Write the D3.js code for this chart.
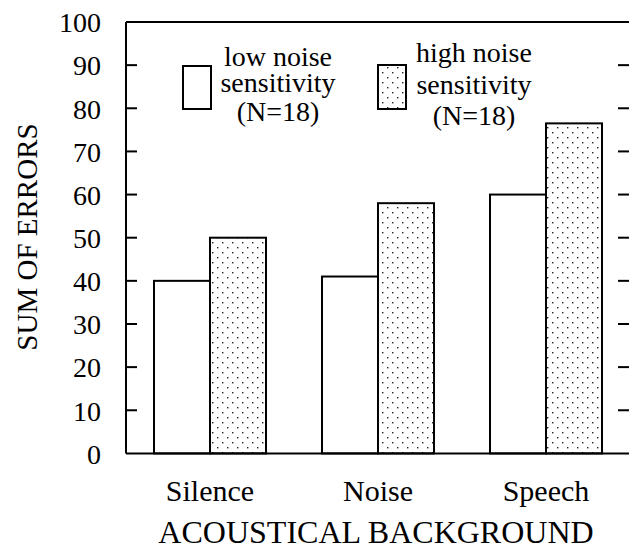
<!DOCTYPE html>
<html><head><meta charset="utf-8">
<script src="https://cdn.jsdelivr.net/npm/d3@7"></script>
<style>
html,body{margin:0;padding:0;background:#fff;}
text{font-family:"Liberation Serif","Times New Roman",serif;fill:#000;}
</style></head>
<body>
<svg id="chart" width="629" height="550"></svg>
<script>
const categories = ["Silence", "Noise", "Speech"];
const seriesNames = ["low", "high"];
const lowValues = [40, 41, 60];
const highValues = [50, 58, 76.5];
const yTicks = [0, 10, 20, 30, 40, 50, 60, 70, 80, 90, 100];
const legendLow = ["low noise", "sensitivity", "(N=18)"];
const legendHigh = ["high noise", "sensitivity", "(N=18)"];

const svg = d3.select("#chart");
const pLeft = 126, pRight = 630, pTop = 22, pBottom = 453.4;

const defs = svg.append("defs");
const pat = defs.append("pattern").attr("id", "dots").attr("patternUnits", "userSpaceOnUse")
  .attr("width", 10).attr("height", 10);
pat.append("rect").attr("width", 10).attr("height", 10).attr("fill", "#fff");
pat.append("rect").attr("x", 2).attr("y", 2).attr("width", 1.4).attr("height", 1.4).attr("fill", "#222");
pat.append("rect").attr("x", 7).attr("y", 7).attr("width", 1.4).attr("height", 1.4).attr("fill", "#222");

const x = d3.scaleBand().domain(categories).range([pLeft, pRight]).paddingInner(0).paddingOuter(0);
const xs = d3.scaleBand().domain(seriesNames).range([0, x.bandwidth()]).paddingInner(0).paddingOuter(0.5);
const y = d3.scaleLinear().domain([0, 100]).range([pBottom, pTop]);

const data = categories.map((c, i) => ({cat: c, low: lowValues[i], high: highValues[i]}));

// bars
const g = svg.append("g");
data.forEach(d => {
  seriesNames.forEach(s => {
    g.append("rect")
      .attr("x", x(d.cat) + xs(s))
      .attr("y", y(d[s]))
      .attr("width", xs.bandwidth())
      .attr("height", y(0) - y(d[s]))
      .attr("fill", s === "low" ? "#fff" : "url(#dots)")
      .attr("stroke", "#000").attr("stroke-width", 2);
  });
});

// frame
svg.append("line").attr("x1", pLeft).attr("x2", pRight).attr("y1", pTop).attr("y2", pTop).attr("stroke", "#000").attr("stroke-width", 1.8);
svg.append("line").attr("x1", pLeft).attr("x2", pRight).attr("y1", pBottom).attr("y2", pBottom).attr("stroke", "#000").attr("stroke-width", 2);
svg.append("line").attr("x1", pLeft).attr("x2", pLeft).attr("y1", pTop).attr("y2", pBottom).attr("stroke", "#000").attr("stroke-width", 2);
svg.append("line").attr("x1", pRight).attr("x2", pRight).attr("y1", pTop).attr("y2", pBottom).attr("stroke", "#000").attr("stroke-width", 2);

// y axis (left) with inward ticks
const yAxis = d3.axisLeft(y).tickValues(yTicks).tickSize(0).tickPadding(25).tickFormat(d3.format("d"));
const ya = svg.append("g").attr("transform", `translate(${pLeft},0)`).call(yAxis);
ya.select(".domain").remove();
ya.selectAll("text").attr("font-size", 28).style("font-family", '"Liberation Serif",serif').attr("dy", "0.35em");
const innerTicks = yTicks.filter(t => t > 0 && t < 100);
svg.append("g").selectAll("line").data(innerTicks).join("line")
  .attr("x1", pLeft).attr("x2", pLeft + 11).attr("y1", d => y(d)).attr("y2", d => y(d))
  .attr("stroke", "#000").attr("stroke-width", 2);
svg.append("g").selectAll("line").data(innerTicks).join("line")
  .attr("x1", pRight - 12).attr("x2", pRight).attr("y1", d => y(d)).attr("y2", d => y(d))
  .attr("stroke", "#000").attr("stroke-width", 2);

// x axis labels
const xAxis = d3.axisBottom(x).tickSize(0).tickPadding(26);
const xa = svg.append("g").attr("transform", `translate(0,${pBottom})`).call(xAxis);
xa.select(".domain").remove();
xa.selectAll("text").attr("font-size", 30).style("font-family", '"Liberation Serif",serif');

// axis titles
svg.append("text").attr("x", 376).attr("y", 543).attr("text-anchor", "middle")
  .attr("font-size", 32).text("ACOUSTICAL BACKGROUND");
svg.append("text").attr("transform", "translate(37,237) rotate(-90)").attr("text-anchor", "middle")
  .attr("font-size", 29).text("SUM OF ERRORS");

// legend
svg.append("rect").attr("x", 183).attr("y", 66).attr("width", 28).attr("height", 43)
  .attr("fill", "#fff").attr("stroke", "#000").attr("stroke-width", 2);
svg.append("rect").attr("x", 378).attr("y", 65).attr("width", 28).attr("height", 44)
  .attr("fill", "url(#dots)").attr("stroke", "#000").attr("stroke-width", 2);
const lowY = [66, 92, 121], highY = [62, 94, 125];
legendLow.forEach((t, i) => svg.append("text").attr("x", 278).attr("y", lowY[i]).attr("text-anchor", "middle").attr("font-size", 28).text(t));
legendHigh.forEach((t, i) => svg.append("text").attr("x", 474).attr("y", highY[i]).attr("text-anchor", "middle").attr("font-size", 28).text(t));
</script>
</body></html>
